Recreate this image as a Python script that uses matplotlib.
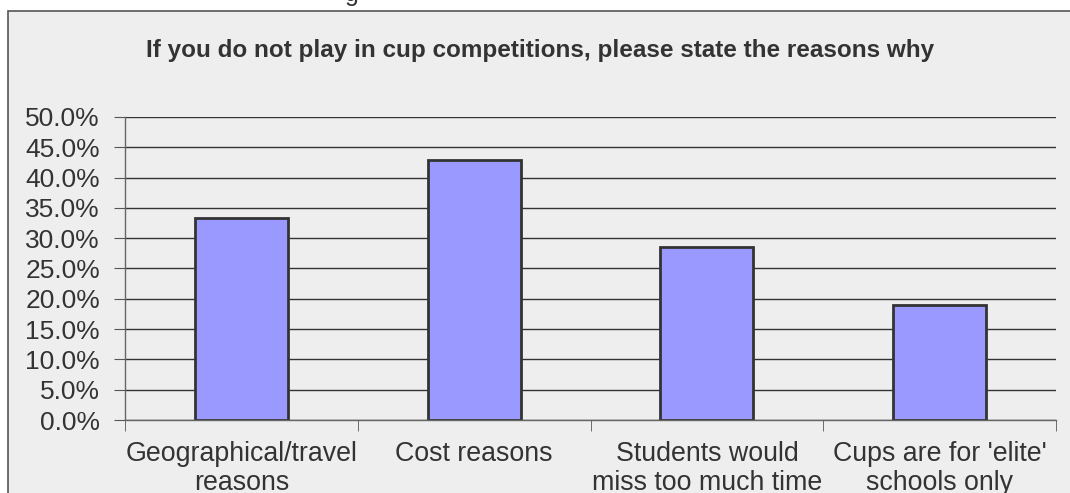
import matplotlib.pyplot as plt
from matplotlib.patches import Rectangle
from matplotlib.ticker import FuncFormatter, MultipleLocator

# data (share of respondents)
categories = ["Geographical/travel\nreasons", "Cost reasons",
              "Students would\nmiss too much time", "Cups are for 'elite'\nschools only"]
values = [0.333, 0.429, 0.286, 0.190]
title = "If you do not play in cup competitions, please state the reasons why"

plt.rcParams['font.family'] = ['Liberation Sans', 'DejaVu Sans']
W, H = 1070, 493
fig = plt.figure(figsize=(W / 100, H / 100), dpi=100, facecolor='white')

# chart frame (runs off the right and bottom of the image)
frame = Rectangle((7.5 / W, -0.1), 1.2, 1 - 11 / H + 0.1,
                  transform=fig.transFigure, facecolor='#eeeeee',
                  edgecolor='#555555', linewidth=1.2, zorder=-5)
fig.patches.append(frame)
# leftover text from above the chart, only its lower part shows
fig.text(352 / W, 1 - 1 / H, "g", fontsize=18, color='#333333', ha='center', va='baseline',
         clip_on=False)

ax = fig.add_axes([125 / W, (H - 420) / H, (1056 - 125) / W, (420 - 117) / H])
ax.set_facecolor('none')

x = range(len(values))
ax.bar(x, values, width=0.4, color='#9999ff', edgecolor='#333333', linewidth=2, zorder=3)

ax.set_xlim(-0.5, len(values) - 0.5)
ax.set_ylim(0, 0.5)
ax.yaxis.set_major_locator(MultipleLocator(0.05))
ax.yaxis.set_major_formatter(FuncFormatter(lambda v, p: f"{v * 100:.1f}%"))
ax.grid(axis='y', color='#333333', linewidth=1, zorder=1)

ax.set_xticks(list(x))
ax.set_xticklabels(categories, fontsize=19.3, color='#333333', va='top', linespacing=1.15)
ax.set_xticks([i - 0.5 for i in range(len(values) + 1)], minor=True)
ax.tick_params(axis='x', which='major', length=0, pad=15)
ax.tick_params(axis='x', which='minor', length=8, color='#555555', direction='out')
ax.tick_params(axis='y', length=8, color='#555555', labelsize=19, labelcolor='#333333', pad=10)

for s in ['top', 'right']:
    ax.spines[s].set_visible(False)
for s in ['left', 'bottom']:
    ax.spines[s].set_color('#666666')
    ax.spines[s].set_linewidth(1)
    ax.spines[s].set_zorder(4)

fig.text(540 / W, 1 - 50 / H, title, fontsize=17.5, fontweight='bold', color='#333333',
         ha='center', va='center')

fig.savefig('out.png', dpi=100, facecolor=fig.get_facecolor())
